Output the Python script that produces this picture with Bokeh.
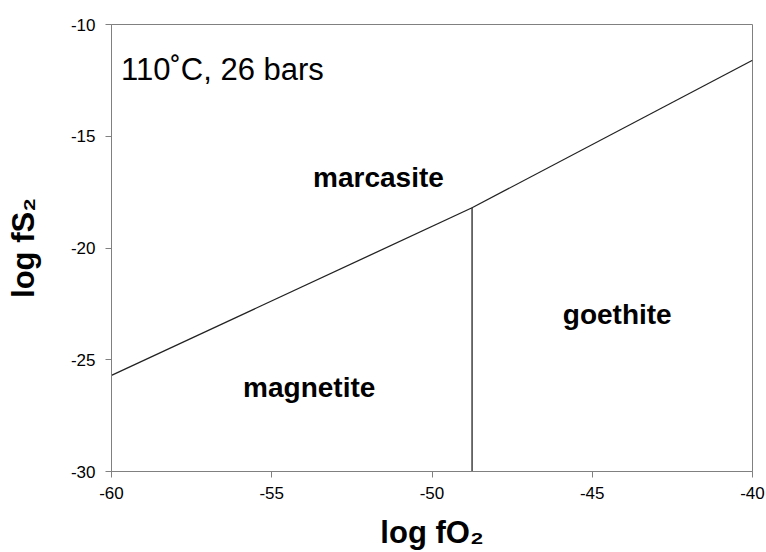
from bokeh.plotting import figure
from bokeh.models import Range1d, Label, FixedTicker
from bokeh.embed import file_html
from bokeh.resources import INLINE

# Phase boundaries (log fO2, log fS2)
mag_mar_x = [-60.0, -48.75]
mag_mar_y = [-25.7, -18.2]
goe_mar_x = [-48.75, -40.0]
goe_mar_y = [-18.2, -11.6]
mag_goe_x = [-48.75, -48.75]
mag_goe_y = [-30.0, -18.2]

x_ticks = [-60, -55, -50, -45, -40]
y_ticks = [-30, -25, -20, -15, -10]

field_names = ["marcasite", "magnetite", "goethite"]
field_x = [-51.67, -53.83, -44.22]
field_y = [-16.84, -26.22, -22.96]

title_text = "110˚C, 26 bars"
x_title = "log fO₂"
y_title = "log fS₂"

FONT = "Liberation Sans"
AXIS_COL = "#808080"

p = figure(width=766, height=552, output_backend="svg", toolbar_location=None,
           x_range=Range1d(-60, -40), y_range=Range1d(-30, -10),
           min_border_left=111, min_border_right=14, min_border_top=24, min_border_bottom=80)
p.grid.visible = False
p.outline_line_color = AXIS_COL
p.outline_line_width = 1
p.background_fill_color = "white"
p.border_fill_color = "white"

for ax, ticks in ((p.xaxis, x_ticks), (p.yaxis, y_ticks)):
    ax.ticker = FixedTicker(ticks=ticks)
    ax.major_label_overrides = {t: str(t) for t in ticks}
    ax.axis_line_color = AXIS_COL
    ax.major_tick_line_color = AXIS_COL
    ax.major_tick_in = 0
    ax.major_tick_out = 6
    ax.minor_tick_line_color = None
    ax.major_label_text_font = FONT
    ax.major_label_text_font_size = "17px"
    ax.major_label_text_color = "black"
    ax.axis_label_text_font = FONT
    ax.axis_label_text_font_style = "bold"
    ax.axis_label_text_font_size = "31px"
    ax.axis_label_text_color = "black"
p.xaxis.major_label_standoff = 9
p.yaxis.major_label_standoff = 10
p.xaxis.axis_label = x_title
p.yaxis.axis_label = y_title
p.xaxis.axis_label_standoff = 13
p.yaxis.axis_label_standoff = 27

line_kw = dict(line_color="#222222", line_width=1.3)
p.line(mag_mar_x, mag_mar_y, **line_kw)
p.line(goe_mar_x, goe_mar_y, **line_kw)
p.line(mag_goe_x, mag_goe_y, **line_kw)

for name, fx, fy in zip(field_names, field_x, field_y):
    p.add_layout(Label(x=fx, y=fy, text=name, text_align="center", text_baseline="alphabetic",
                       text_font=FONT, text_font_style="bold", text_font_size="28px",
                       text_color="black"))

p.add_layout(Label(x=-59.70, y=-12.01, text=title_text, text_align="left",
                   text_baseline="alphabetic", text_font=FONT, text_font_size="31px",
                   text_color="black"))

open("out.html", "w").write(file_html(p, INLINE))
